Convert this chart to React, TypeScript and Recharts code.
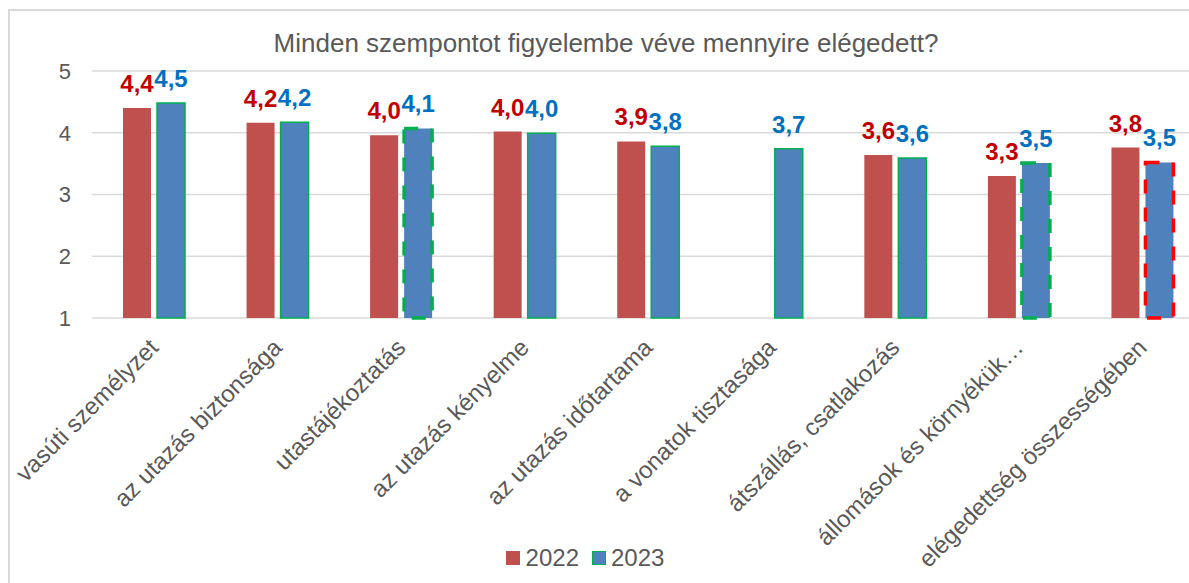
import React from "react";
import {
  BarChart,
  Bar,
  XAxis,
  YAxis,
  CartesianGrid,
  Legend,
  LabelList,
  Cell,
} from "recharts";

const categories = [
  "vasúti személyzet",
  "az utazás biztonsága",
  "utastájékoztatás",
  "az utazás kényelme",
  "az utazás időtartama",
  "a vonatok tisztasága",
  "átszállás, csatlakozás",
  "állomások és környékük…",
  "elégedettség összességében",
];

const values2022: (number | null)[] = [4.4, 4.16, 3.96, 4.02, 3.86, null, 3.64, 3.3, 3.76];
const values2023: number[] = [4.48, 4.17, 4.07, 3.99, 3.78, 3.74, 3.59, 3.51, 3.52];

// outline style of the 2023 bars: plain green, dashed green or dashed red
const outline2023 = ["solid", "solid", "dashed", "solid", "solid", "solid", "solid", "dashed", "red"];

const yTicks = [1, 2, 3, 4, 5];

const data = categories.map((name, i) => ({
  name,
  y2022: values2022[i],
  y2023: values2023[i],
}));

const FONT = "'Liberation Sans', Arial, sans-serif";
const TEXT = "#595959";

const fmt = (v: any) => (v == null ? "" : Number(v).toFixed(1).replace(".", ","));

const CategoryTick = ({ x, y, payload }: any) => (
  <g transform={`translate(${x + 6},${y + 31})`}>
    <text
      textAnchor="end"
      transform="rotate(-45)"
      fill={TEXT}
      fontSize={24}
      fontFamily={FONT}
    >
      {payload.value}
    </text>
  </g>
);

const LegendContent = () => (
  <div
    style={{
      display: "flex",
      justifyContent: "center",
      alignItems: "center",
      fontFamily: FONT,
      fontSize: 24,
      color: TEXT,
    }}
  >
    <span style={{ width: 14, height: 14, background: "#C0504D", marginRight: 6 }} />
    <span style={{ marginRight: 13 }}>2022</span>
    <span
      style={{
        width: 12,
        height: 12,
        background: "#4F81BD",
        border: "1.5px solid #00B050",
        marginRight: 5,
      }}
    />
    <span>2023</span>
  </div>
);

export default function App() {
  return (
    <div
      style={{
        position: "fixed",
        left: 0,
        top: 0,
        width: 1189,
        height: 583,
        overflow: "hidden",
        background: "#fff",
        fontFamily: FONT,
      }}
    >
      <div
        style={{
          position: "absolute",
          left: 8,
          top: 9,
          width: 1260,
          height: 620,
          borderLeft: "2px solid #D9D9D9",
          borderTop: "2px solid #D9D9D9",
        }}
      />
      <div
        style={{
          position: "absolute",
          left: 10,
          top: 30,
          width: 1192,
          textAlign: "center",
          fontSize: 26,
          lineHeight: "26px",
          color: TEXT,
        }}
      >
        Minden szempontot figyelembe véve mennyire elégedett?
      </div>
      <div style={{ position: "absolute", left: 10, top: 11 }}>
        <BarChart
          width={1240}
          height={590}
          data={data}
          margin={{ top: 60, right: 46, left: 22, bottom: 0 }}
          barSize={28}
          barGap={6}
        >
          <CartesianGrid horizontal vertical={false} stroke="#D9D9D9" strokeWidth={1.5} />
          <XAxis
            dataKey="name"
            interval={0}
            axisLine={false}
            tickLine={false}
            tickSize={0}
            tickMargin={0}
            height={283}
            tick={<CategoryTick />}
          />
          <YAxis
            domain={[1, 5]}
            ticks={yTicks}
            width={60}
            axisLine={false}
            tickLine={false}
            tickSize={0}
            tickMargin={21}
            tick={{ fill: TEXT, fontSize: 22, fontFamily: FONT }}
          />
          <Legend
            verticalAlign="middle"
            layout="horizontal"
            content={<LegendContent />}
            wrapperStyle={{ top: 533, left: 0, width: 1150, height: 30 }}
          />
          <Bar dataKey="y2022" name="2022" fill="#C0504D" isAnimationActive={false}>
            <LabelList
              dataKey="y2022"
              position="top"
              offset={16}
              formatter={fmt}
              fill="#C00000"
              fontSize={24}
              fontWeight="bold"
              fontFamily={FONT}
            />
          </Bar>
          <Bar dataKey="y2023" name="2023" fill="#4F81BD" isAnimationActive={false}>
            {outline2023.map((o, i) => (
              <Cell
                key={i}
                fill="#4F81BD"
                stroke={o === "red" ? "#FF0000" : "#00B050"}
                strokeWidth={o === "solid" ? 1.5 : 3.5}
                strokeDasharray={o === "solid" ? undefined : "14 14"}
              />
            ))}
            <LabelList
              dataKey="y2023"
              position="top"
              offset={16}
              formatter={fmt}
              fill="#0070C0"
              fontSize={24}
              fontWeight="bold"
              fontFamily={FONT}
            />
          </Bar>
        </BarChart>
      </div>
    </div>
  );
}
